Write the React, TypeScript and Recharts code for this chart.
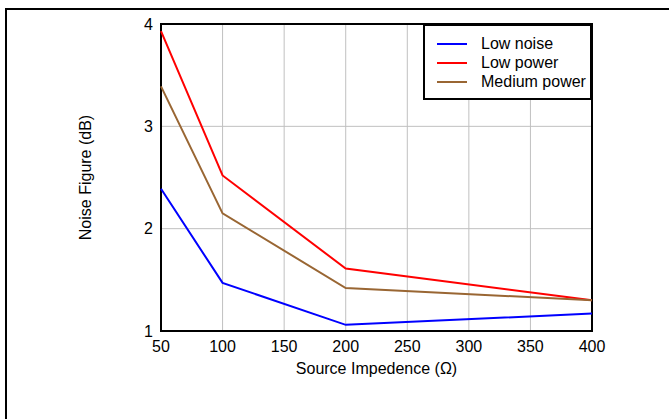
import React from 'react';
import {
  LineChart,
  Line,
  XAxis,
  YAxis,
  CartesianGrid,
  Legend,
  Label,
  ReferenceArea,
} from 'recharts';

const impedance = [50, 100, 200, 400];
const lowNoise = [2.39, 1.47, 1.06, 1.17];
const lowPower = [3.93, 2.52, 1.61, 1.3];
const mediumPower = [3.39, 2.15, 1.42, 1.3];

const xTicks = [50, 100, 150, 200, 250, 300, 350, 400];
const yTicks = [1, 2, 3, 4];

const series = [
  { key: 'lowNoise', name: 'Low noise', color: '#0000ff' },
  { key: 'lowPower', name: 'Low power', color: '#ff0000' },
  { key: 'mediumPower', name: 'Medium power', color: '#996633' },
];

const data = impedance.map((x, i) => ({
  x,
  lowNoise: lowNoise[i],
  lowPower: lowPower[i],
  mediumPower: mediumPower[i],
}));

const FONT = '"Liberation Sans", Arial, sans-serif';

const LegendBox = () => (
  <div
    style={{
      position: 'relative',
      width: 165,
      height: 72,
      border: '2px solid #000',
      background: '#fff',
      boxSizing: 'content-box',
    }}
  >
    {series.map((s, i) => (
      <div
        key={s.key}
        style={{
          position: 'absolute',
          left: 12,
          top: 8 + i * 19,
          height: 19,
          display: 'flex',
          alignItems: 'center',
          fontFamily: FONT,
          fontSize: 16,
          color: '#000',
          whiteSpace: 'nowrap',
        }}
      >
        <span style={{ display: 'inline-block', width: 30, height: 2, background: s.color, marginRight: 14 }} />
        {s.name}
      </div>
    ))}
  </div>
);

const App = () => {
  return (
    <div style={{ position: 'absolute', left: 0, top: 0, width: 669, height: 419, background: '#fff' }}>
      <div
        style={{
          position: 'absolute',
          left: 5,
          top: 8,
          width: 664,
          height: 411,
          borderTop: '2px solid #000',
          borderLeft: '2px solid #000',
          boxSizing: 'border-box',
        }}
      />
      <LineChart
        width={669}
        height={419}
        data={data}
        margin={{ top: 24, right: 77, left: 0, bottom: 0 }}
        style={{ fontFamily: FONT }}
      >
        <CartesianGrid stroke="#c0c0c0" strokeWidth={1} />
        <XAxis
          dataKey="x"
          type="number"
          domain={[50, 400]}
          ticks={xTicks}
          height={88}
          tickLine={false}
          axisLine={false}
          tickMargin={4}
          tick={{ fill: '#000', fontSize: 16 }}
        >
          <Label value="Source Impedence (Ω)" position="insideTop" offset={32} fill="#000" fontSize={16} />
        </XAxis>
        <YAxis
          type="number"
          domain={[1, 4]}
          ticks={yTicks}
          width={161}
          tickLine={false}
          axisLine={false}
          tick={{ fill: '#000', fontSize: 16 }}
        >
          <Label value="Noise Figure (dB)" angle={-90} position="center" dx={5} fill="#000" fontSize={16} />
        </YAxis>
        {series.map((s) => (
          <Line
            key={s.key}
            type="linear"
            dataKey={s.key}
            name={s.name}
            stroke={s.color}
            strokeWidth={2}
            dot={false}
            isAnimationActive={false}
          />
        ))}
        <ReferenceArea x1={50} x2={400} y1={1} y2={4} fill="none" stroke="#000" strokeWidth={2} ifOverflow="visible" />
        <Legend
          layout="vertical"
          verticalAlign="middle"
          align="center"
          content={() => <LegendBox />}
          wrapperStyle={{ position: 'absolute', left: 423, top: 24, width: 169, height: 76 }}
        />
      </LineChart>
    </div>
  );
};

export default App;
